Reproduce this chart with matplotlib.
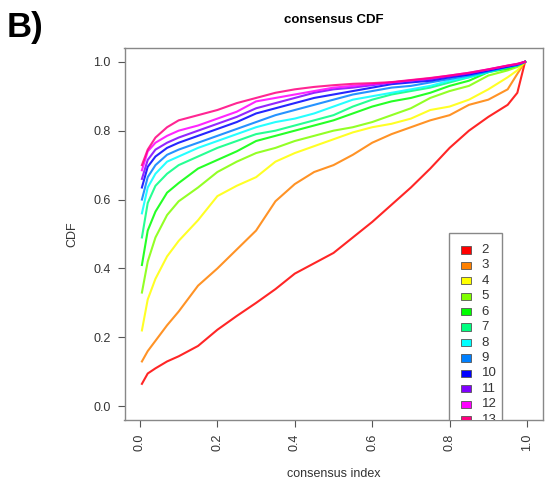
import matplotlib.pyplot as plt
from matplotlib.patches import Rectangle

plt.rcParams['font.family'] = ['Liberation Sans', 'DejaVu Sans']

# consensus index grid shared by all curves
cons_idx = [0.005, 0.02, 0.04, 0.07, 0.1, 0.15, 0.2, 0.25, 0.3, 0.35, 0.4, 0.45,
            0.5, 0.55, 0.6, 0.65, 0.7, 0.75, 0.8, 0.85, 0.9, 0.95, 0.975, 0.995]

k_values = [2, 3, 4, 5, 6, 7, 8, 9, 10, 11, 12, 13]

cdf_k2 = [0.065, 0.095, 0.11, 0.13, 0.145, 0.175, 0.222, 0.262, 0.30, 0.34, 0.385, 0.415,
          0.445, 0.49, 0.535, 0.585, 0.635, 0.69, 0.75, 0.80, 0.84, 0.875, 0.91, 1.0]
cdf_k3 = [0.13, 0.16, 0.19, 0.235, 0.275, 0.35, 0.40, 0.455, 0.51, 0.595, 0.645, 0.68,
          0.70, 0.73, 0.765, 0.79, 0.81, 0.83, 0.845, 0.875, 0.89, 0.92, 0.965, 1.0]
cdf_k4 = [0.22, 0.31, 0.37, 0.435, 0.48, 0.54, 0.61, 0.64, 0.665, 0.71, 0.735, 0.755,
          0.775, 0.795, 0.81, 0.82, 0.835, 0.86, 0.87, 0.89, 0.92, 0.955, 0.975, 1.0]
cdf_k5 = [0.33, 0.42, 0.49, 0.555, 0.595, 0.635, 0.68, 0.71, 0.735, 0.75, 0.77, 0.785,
          0.80, 0.81, 0.825, 0.845, 0.865, 0.895, 0.915, 0.93, 0.96, 0.975, 0.985, 1.0]
cdf_k6 = [0.41, 0.51, 0.565, 0.62, 0.648, 0.69, 0.715, 0.74, 0.77, 0.785, 0.80, 0.815,
          0.83, 0.85, 0.87, 0.885, 0.895, 0.91, 0.93, 0.945, 0.97, 0.98, 0.99, 1.0]
cdf_k7 = [0.49, 0.59, 0.64, 0.675, 0.70, 0.725, 0.75, 0.77, 0.79, 0.80, 0.815, 0.83,
          0.845, 0.87, 0.89, 0.905, 0.915, 0.925, 0.94, 0.955, 0.97, 0.985, 0.99, 1.0]
cdf_k8 = [0.56, 0.635, 0.675, 0.71, 0.725, 0.75, 0.77, 0.79, 0.81, 0.825, 0.835, 0.85,
          0.87, 0.89, 0.90, 0.91, 0.92, 0.93, 0.945, 0.955, 0.97, 0.985, 0.99, 1.0]
cdf_k9 = [0.60, 0.665, 0.70, 0.73, 0.745, 0.765, 0.785, 0.805, 0.825, 0.845, 0.86, 0.875,
          0.89, 0.905, 0.915, 0.925, 0.93, 0.94, 0.95, 0.96, 0.972, 0.985, 0.99, 1.0]
cdf_k10 = [0.635, 0.695, 0.725, 0.75, 0.765, 0.785, 0.805, 0.825, 0.85, 0.865, 0.88, 0.895,
           0.905, 0.915, 0.925, 0.935, 0.94, 0.945, 0.955, 0.963, 0.975, 0.986, 0.992, 1.0]
cdf_k11 = [0.66, 0.715, 0.745, 0.765, 0.78, 0.80, 0.82, 0.84, 0.865, 0.88, 0.895, 0.91,
           0.92, 0.925, 0.932, 0.94, 0.945, 0.95, 0.958, 0.966, 0.977, 0.988, 0.993, 1.0]
cdf_k12 = [0.685, 0.74, 0.765, 0.785, 0.80, 0.815, 0.835, 0.855, 0.885, 0.895, 0.905, 0.915,
           0.925, 0.93, 0.935, 0.94, 0.946, 0.952, 0.96, 0.968, 0.978, 0.989, 0.994, 1.0]
cdf_k13 = [0.70, 0.745, 0.78, 0.81, 0.83, 0.845, 0.86, 0.88, 0.895, 0.91, 0.92, 0.927,
           0.932, 0.936, 0.938, 0.941, 0.947, 0.953, 0.96, 0.968, 0.978, 0.989, 0.994, 1.0]

cdfs = [cdf_k2, cdf_k3, cdf_k4, cdf_k5, cdf_k6, cdf_k7, cdf_k8, cdf_k9,
        cdf_k10, cdf_k11, cdf_k12, cdf_k13]

# R rainbow(12)
colors = ['#FF0000', '#FF8000', '#FFFF00', '#80FF00', '#00FF00', '#00FF80',
          '#00FFFF', '#0080FF', '#0000FF', '#8000FF', '#FF00FF', '#FF0080']

fig = plt.figure(figsize=(5.49, 4.83), dpi=100)
ax = fig.add_axes([124.5 / 549, 63 / 483, 418 / 549, 372 / 483])

for k, y, c in zip(k_values, cdfs, colors):
    ax.plot(cons_idx, y, color=c, lw=1.5, alpha=0.85)

ax.set_xlim(-0.04, 1.04)
ax.set_ylim(-0.04, 1.04)
ticks = [0.0, 0.2, 0.4, 0.6, 0.8, 1.0]
ax.set_xticks(ticks)
ax.set_yticks(ticks)
ax.set_xticklabels(['%.1f' % t for t in ticks], rotation=90)
ax.set_yticklabels(['%.1f' % t for t in ticks])
ax.tick_params(direction='out', length=5, width=0.8, color='#555555',
               labelsize=9, labelcolor='#333333', pad=5)
for s in ax.spines.values():
    s.set_color('#888888')
    s.set_linewidth(1.0)

ax.set_xlabel('consensus index', fontsize=9, color='#333333', labelpad=12)
ax.set_ylabel('CDF', fontsize=9, color='#333333', labelpad=11)
ax.set_title('consensus CDF', fontsize=9.5, fontweight='bold', pad=18)

# legend box in the lower right, clipped by the plot region like R's
lx0, lx1, ly_top = 0.798, 0.935, 0.503
row = 0.0448
ax.add_patch(Rectangle((lx0, ly_top - row * 13.2), lx1 - lx0, row * 13.2,
                       facecolor='white', edgecolor='#888888', lw=1.0,
                       clip_on=True, zorder=5))
for i, (k, c) in enumerate(zip(k_values, colors)):
    yc = ly_top - row * 1.1 - row * i
    ax.add_patch(Rectangle((0.829, yc - 0.0105), 0.026, 0.021, facecolor=c,
                           edgecolor='#555555', lw=0.6, clip_on=True, zorder=6))
    ax.text(0.883, yc, str(k), fontsize=9.5, color='#333333', va='center',
            ha='left', clip_on=True, zorder=6)

fig.text(0.012, 1 - 37 / 483, 'B)', fontsize=25, fontweight='bold', va='baseline')

fig.savefig('out.png', dpi=100)
